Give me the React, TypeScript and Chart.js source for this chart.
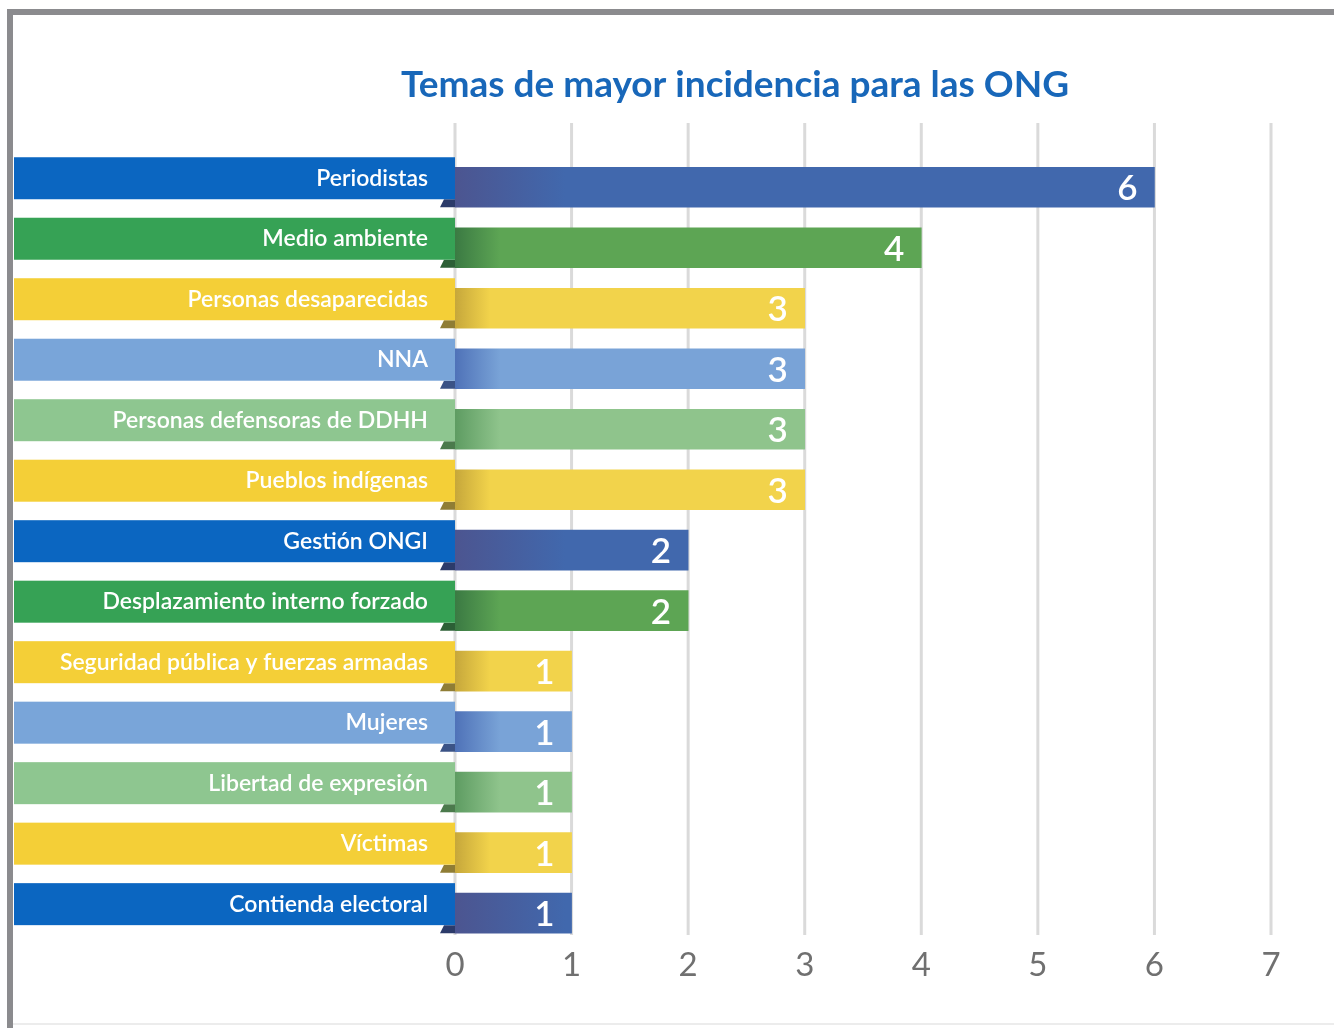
import React, { useEffect, useRef } from "react";
import { Chart, registerables } from "chart.js";

Chart.register(...registerables);

const chartTitle = "Temas de mayor incidencia para las ONG";
const categories = [
  "Periodistas",
  "Medio ambiente",
  "Personas desaparecidas",
  "NNA",
  "Personas defensoras de DDHH",
  "Pueblos indígenas",
  "Gestión ONGI",
  "Desplazamiento interno forzado",
  "Seguridad pública y fuerzas armadas",
  "Mujeres",
  "Libertad de expresión",
  "Víctimas",
  "Contienda electoral",
];
const values = [6, 4, 3, 3, 3, 3, 2, 2, 1, 1, 1, 1, 1];
const colorKeys = [
  "blue", "green", "yellow", "lightBlue", "lightGreen", "yellow",
  "blue", "green", "yellow", "lightBlue", "lightGreen", "yellow", "blue",
];
const xTicks = [0, 1, 2, 3, 4, 5, 6, 7];

const palette: Record<string, { band: string; bar: string; dark: string; fold: string; grad: number }> = {
  blue: { band: "#0b66c1", bar: "#4168ad", dark: "#4c5590", fold: "#2c3b6a", grad: 110 },
  green: { band: "#36a255", bar: "#5da554", dark: "#3b7a43", fold: "#2c5f36", grad: 45 },
  yellow: { band: "#f4cf37", bar: "#f2d34b", dark: "#c6a73b", fold: "#8f7d35", grad: 35 },
  lightBlue: { band: "#79a5d9", bar: "#79a3d7", dark: "#4f72b8", fold: "#3b5386", grad: 45 },
  lightGreen: { band: "#8ec690", bar: "#8fc48c", dark: "#5e9c62", fold: "#4b7a4c", grad: 45 },
};

const BAND_LEFT = 14;
const FONT = "Lato, 'Open Sans', sans-serif";

const decorPlugin = {
  id: "decor",
  beforeDraw(chart: any) {
    const c = chart.ctx;
    const w = chart.width;
    const h = chart.height;
    c.save();
    c.fillStyle = "#ffffff";
    c.fillRect(0, 0, w, h);
    // frame
    c.fillStyle = "#8b8b8e";
    c.fillRect(7, 9, w - 7, 6);
    c.fillRect(7, 9, 6, h - 9);
    c.fillStyle = "#ececec";
    c.fillRect(13, h - 5, w - 13, 2);
    // title
    c.fillStyle = "#1867b9";
    c.font = `bold 37px ${FONT}`;
    c.textAlign = "center";
    c.textBaseline = "alphabetic";
    c.fillText(chartTitle, 735, 97);
    c.restore();
  },
  beforeDatasetsDraw(chart: any) {
    const c = chart.ctx;
    const xs = chart.scales.x;
    const ys = chart.scales.y;
    const x0 = xs.getPixelForValue(0);
    c.save();
    // gridlines
    c.strokeStyle = "#dadada";
    c.lineWidth = 3;
    xTicks.forEach((t) => {
      const x = xs.getPixelForValue(t);
      c.beginPath();
      c.moveTo(x, 123);
      c.lineTo(x, 935);
      c.stroke();
    });
    // bands, folds, labels
    categories.forEach((cat, i) => {
      const p = palette[colorKeys[i]];
      const cy = ys.getPixelForValue(i);
      const barTop = cy - 20;
      const barBottom = cy + 20;
      const bandTop = barTop - 10;
      const bandBottom = barBottom - 8;
      c.fillStyle = p.fold;
      c.beginPath();
      c.moveTo(x0 - 11, bandBottom);
      c.lineTo(x0, bandBottom);
      c.lineTo(x0, barBottom);
      c.lineTo(x0 - 15, barBottom);
      c.closePath();
      c.fill();
      c.fillStyle = p.band;
      c.fillRect(BAND_LEFT, bandTop, x0 - BAND_LEFT, bandBottom - bandTop);
      c.fillStyle = "#ffffff";
      c.font = `600 23px ${FONT}`;
      c.textAlign = "right";
      c.textBaseline = "middle";
      c.fillText(cat, x0 - 27, (bandTop + bandBottom) / 2);
    });
    c.restore();
  },
  afterDatasetsDraw(chart: any) {
    const c = chart.ctx;
    const meta = chart.getDatasetMeta(0);
    c.save();
    c.fillStyle = "#ffffff";
    c.font = `600 35px ${FONT}`;
    c.textAlign = "right";
    c.textBaseline = "alphabetic";
    meta.data.forEach((el: any, i: number) => {
      c.fillText(String(values[i]), el.x - 17, el.y + 13);
    });
    c.restore();
  },
};

export default function App() {
  const ref = useRef<HTMLCanvasElement | null>(null);
  useEffect(() => {
    if (!ref.current) return;
    const chart = new Chart(ref.current, {
      type: "bar",
      data: {
        labels: categories,
        datasets: [
          {
            data: values,
            backgroundColor: (ctx: any) => {
              const chart = ctx.chart;
              const p = palette[colorKeys[ctx.dataIndex] || "blue"];
              if (!chart.chartArea || !chart.scales.x) return p.bar;
              const x0 = chart.scales.x.getPixelForValue(0);
              const g = chart.ctx.createLinearGradient(x0, 0, x0 + p.grad, 0);
              g.addColorStop(0, p.dark);
              g.addColorStop(1, p.bar);
              return g;
            },
            borderWidth: 0,
            barThickness: 40,
          },
        ],
      },
      options: {
        indexAxis: "y",
        animation: false,
        responsive: true,
        maintainAspectRatio: false,
        layout: { padding: { left: 455, right: 63, top: 157, bottom: 41 } },
        plugins: { legend: { display: false }, tooltip: { enabled: false }, title: { display: false } },
        scales: {
          x: {
            min: 0,
            max: 7,
            grid: { display: false, drawTicks: false },
            border: { display: false },
            afterBuildTicks: (axis: any) => {
              axis.ticks = xTicks.map((v) => ({ value: v }));
            },
            ticks: {
              padding: 2,
              color: "#707070",
              font: { family: FONT, size: 33 },
            },
          },
          y: {
            display: false,
            grid: { display: false },
          },
        },
      },
      plugins: [decorPlugin],
    } as any);
    return () => chart.destroy();
  }, []);
  return (
    <div style={{ position: "fixed", left: 0, top: 0, width: 1334, height: 1028 }}>
      <canvas ref={ref} />
    </div>
  );
}
